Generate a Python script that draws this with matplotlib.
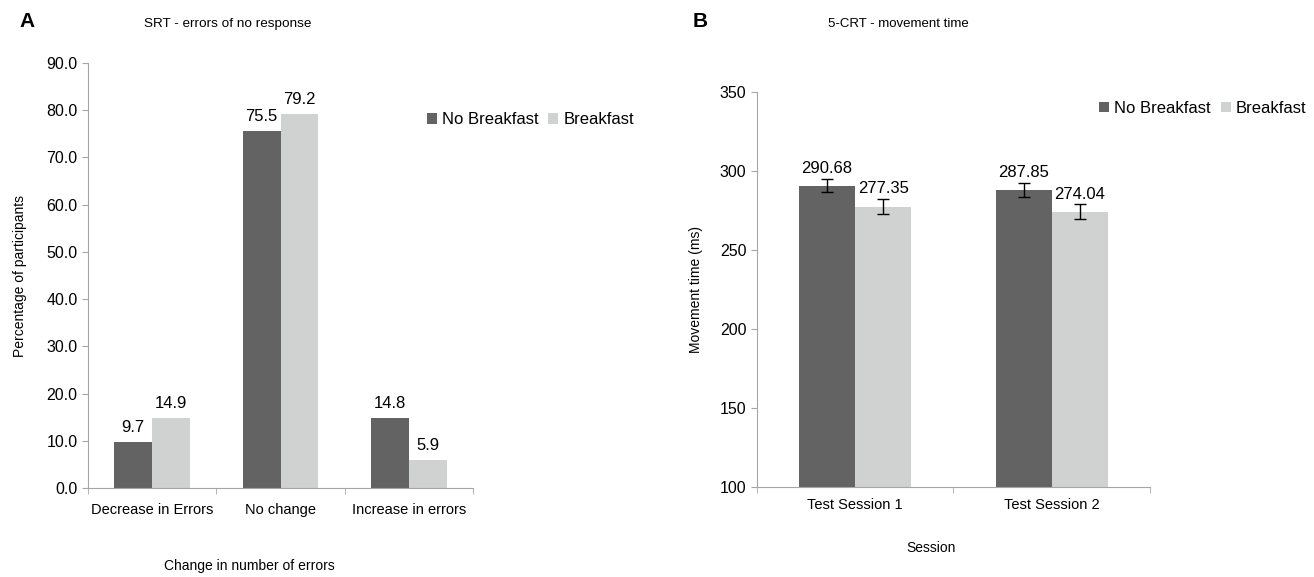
import matplotlib.pyplot as plt
import numpy as np

plt.rcParams['font.family'] = ['Liberation Sans', 'DejaVu Sans']

# Panel A data
cats_a = ['Decrease in Errors', 'No change', 'Increase in errors']
no_bf_a = [9.7, 75.5, 14.8]
bf_a = [14.9, 79.2, 5.9]

# Panel B data
cats_b = ['Test Session 1', 'Test Session 2']
no_bf_b = [290.68, 287.85]
bf_b = [277.35, 274.04]
no_bf_b_err = [4.4, 4.4]
bf_b_err = [4.7, 4.7]

dark = '#636363'
light = '#d0d2d1'
spine = '#a6a6a6'

fig = plt.figure(figsize=(13.14, 5.77), dpi=100)
ax1 = fig.add_axes([0.067, 0.154, 0.293, 0.737])
ax2 = fig.add_axes([0.576, 0.156, 0.299, 0.685])


def style(ax, n, pad):
    for s in ['top', 'right']:
        ax.spines[s].set_visible(False)
    for s in ['left', 'bottom']:
        ax.spines[s].set_color(spine)
    ax.set_xlim(-0.5, n - 0.5)
    ax.set_xticks(np.arange(n))
    ax.set_xticks(np.arange(n + 1) - 0.5, minor=True)
    ax.tick_params(axis='x', which='major', length=0, labelsize=10.5, pad=pad)
    ax.tick_params(axis='x', which='minor', length=4, color=spine)
    ax.tick_params(axis='y', length=4, color=spine, labelsize=11.5)


# Panel A
x = np.arange(len(cats_a))
w = 0.295
b1 = ax1.bar(x - w / 2, no_bf_a, w, color=dark, label='No Breakfast')
b2 = ax1.bar(x + w / 2, bf_a, w, color=light, label='Breakfast')
for bars in (b1, b2):
    ax1.bar_label(bars, fmt='%.1f', padding=5, fontsize=12)
style(ax1, len(cats_a), 11)
ax1.set_xticklabels(cats_a)
ax1.set_ylim(0, 90)
ax1.set_yticks(np.arange(0, 91, 10))
ax1.set_yticklabels(['%.1f' % v for v in np.arange(0, 91, 10)])
ax1.set_xlabel('Change in number of errors', fontsize=10)
ax1.xaxis.set_label_coords(0.42, -0.166)
ax1.set_ylabel('Percentage of participants', fontsize=10, labelpad=14)
ax1.legend(loc='center left', bbox_to_anchor=(0.88, 0.866), ncol=2, frameon=False,
           fontsize=12, handlelength=0.6, handleheight=0.6, handletextpad=0.3,
           columnspacing=0.6, borderaxespad=0, borderpad=0)

# Panel B
x = np.arange(len(cats_b))
w = 0.285
ek = dict(ecolor='black', elinewidth=1, capsize=4, capthick=1)
c1 = ax2.bar(x - w / 2, np.array(no_bf_b) - 100, w, bottom=100, color=dark,
             yerr=no_bf_b_err, error_kw=ek, label='No Breakfast')
c2 = ax2.bar(x + w / 2, np.array(bf_b) - 100, w, bottom=100, color=light,
             yerr=bf_b_err, error_kw=ek, label='Breakfast')
for bars, vals, errs in ((c1, no_bf_b, no_bf_b_err), (c2, bf_b, bf_b_err)):
    for r, v, e in zip(bars, vals, errs):
        ax2.annotate('%.2f' % v, (r.get_x() + r.get_width() / 2, v + e),
                     xytext=(0, 2), textcoords='offset points',
                     ha='center', va='bottom', fontsize=12)
style(ax2, len(cats_b), 8)
ax2.set_xticklabels(cats_b)
ax2.set_ylim(100, 350)
ax2.set_yticks(np.arange(100, 351, 50))
ax2.set_xlabel('Session', fontsize=10)
ax2.xaxis.set_label_coords(0.443, -0.137)
ax2.set_ylabel('Movement time (ms)', fontsize=10, labelpad=12)
ax2.legend(loc='center left', bbox_to_anchor=(0.872, 0.958), ncol=2, frameon=False,
           fontsize=12, handlelength=0.6, handleheight=0.6, handletextpad=0.3,
           columnspacing=0.6, borderaxespad=0, borderpad=0)

# Titles and panel letters
fig.text(0.173, 0.959, 'SRT - errors of no response', ha='center', va='center', fontsize=9.7)
fig.text(0.684, 0.958, '5-CRT - movement time', ha='center', va='center', fontsize=9.5)
fig.text(0.015, 0.962, 'A', fontsize=15, fontweight='bold', va='center')
fig.text(0.527, 0.962, 'B', fontsize=15, fontweight='bold', va='center')

fig.savefig('out.png', dpi=100)
